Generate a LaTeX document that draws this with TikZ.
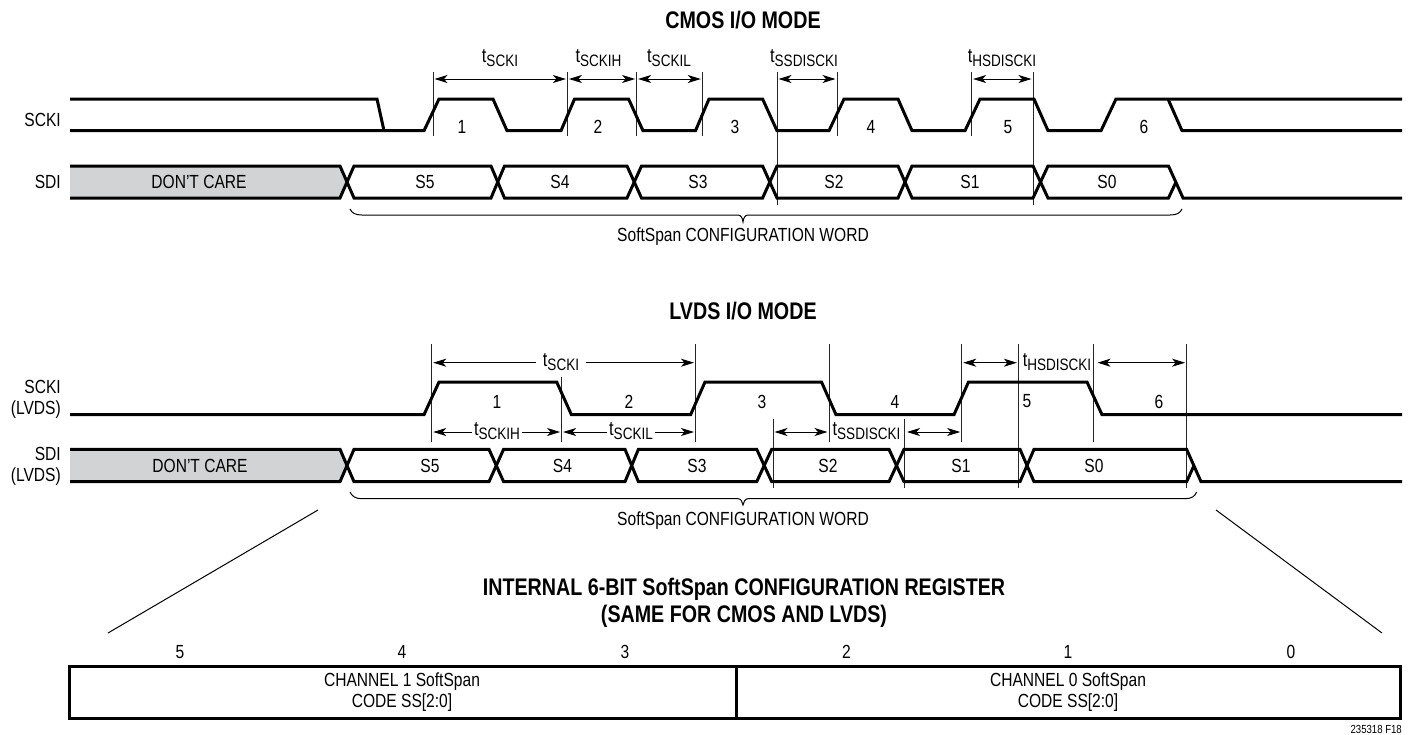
\documentclass[tikz,border=0pt]{standalone}
\usepackage{fontspec}
\setmainfont[FakeStretch=0.82]{Liberation Sans}
\usetikzlibrary{arrows.meta}
\definecolor{dcgrey}{HTML}{D1D3D4}
\tikzset{
  x=1pt,y=-1pt,
  wave/.style={line width=3pt,line join=miter,line cap=butt},
  tick/.style={line width=0.8pt,black!85},
  dim/.style={line width=1pt,shorten >=1.5pt,shorten <=1.5pt,{Stealth[length=13pt,width=8pt,inset=3.5pt]}-{Stealth[length=13pt,width=8pt,inset=3.5pt]}},
  halfdim/.style={line width=1pt,shorten >=1.5pt,-{Stealth[length=13pt,width=8pt,inset=3.5pt]}},
  brc/.style={line width=1pt},
  lab/.style={font=\fontsize{19}{21}\selectfont,inner sep=0pt,align=center},
  rlab/.style={font=\fontsize{19}{21}\selectfont,inner sep=0pt,align=right,anchor=east},
  ttl/.style={font=\fontsize{24}{27}\selectfont\bfseries,inner sep=0pt,align=center},
  symb/.style={inner sep=0pt},
  regbox/.style={draw,line width=3pt,outer sep=0pt,inner sep=0pt,anchor=north west,minimum height=52pt},
}
\newcommand{\tsub}[1]{{\fontsize{20}{21}\selectfont t}\raisebox{-3.5pt}{\fontsize{16.5}{18}\selectfont #1}}
\begin{document}
\begin{tikzpicture}
\useasboundingbox (0,0) rectangle (1411,734);
\fill[white] (0,0) rectangle (1411,734);
% ---------- CMOS
\node[ttl] (t1) at (743,20) {CMOS I/O MODE};
\node[rlab] (l1) at (61,120) {SCKI};
\node[rlab] (l2) at (61,182) {SDI};
\fill[dcgrey] (70,166) -- (340,166) -- (347.5,182) -- (340,198) -- (70,198) -- cycle;
% ticks
\foreach \x in {433,567.4,636.6,702.3,837,971.6} \draw[tick] (\x,72) -- (\x,136);
\foreach \x in {777,1033} \draw[tick] (\x,72) -- (\x,205);
% clock
\draw[wave] (70,99) -- (377,99) -- (384,130.7);
\draw[wave] (70,130.7) -- (424,130.7) -- (439,99) -- (493,99) -- (507,130.7) -- (561,130.7) -- (574.5,99) -- (628.6,99) -- (643,130.7) -- (695.5,130.7) -- (709,99) -- (762.6,99) -- (777,130.7) -- (829,130.7) -- (844,99) -- (898,99) -- (912,130.7) -- (965,130.7) -- (980,99) -- (1034,99) -- (1048,130.7) -- (1101,130.7) -- (1116,99) -- (1402,99);
\draw[wave] (1168,99) -- (1182,130.7) -- (1402,130.7);
% data
\draw[wave] (70,166) -- (340,166) -- (354,198) -- (491,198) -- (504.5,166) -- (627,166) -- (641.5,198) -- (762.6,198) -- (777,166) -- (898,166) -- (912,198) -- (1033,198) -- (1048,166) -- (1168.5,166) -- (1183,198) -- (1402,198);
\draw[wave] (70,198) -- (340,198) -- (354,166) -- (491,166) -- (504.5,198) -- (627,198) -- (641.5,166) -- (762.6,166) -- (777,198) -- (898,198) -- (912,166) -- (1033,166) -- (1048,198) -- (1168.5,198) -- (1176,182);
\node[lab] (d1) at (199,182) {DON'T CARE};
\node[lab] (s51) at (425,182) {S5};
\node[lab] (s41) at (560,182) {S4};
\node[lab] (s31) at (698,182) {S3};
\node[lab] (s21) at (834,182) {S2};
\node[lab] (s11) at (970,182) {S1};
\node[lab] (s01) at (1107,182) {S0};
\foreach \n/\x in {1/462,2/598,3/735,4/871,5/1008,6/1144} \node[lab] (n\n) at (\x,127) {\n};
% dims
\coordinate (a1) at (433,79); \coordinate (a2) at (567.4,79); \coordinate (a3) at (636.6,79); \coordinate (a4) at (702.3,79);
\coordinate (a5) at (777,79); \coordinate (a6) at (837,79); \coordinate (a7) at (971.6,79); \coordinate (a8) at (1033,79);
\draw[dim] (a1) -- (a2);
\draw[dim] (a2) -- (a3);
\draw[dim] (a3) -- (a4);
\draw[dim] (a5) -- (a6);
\draw[dim] (a7) -- (a8);
\node[symb] (ts1) at (500,58) {\tsub{SCKI}};
\node[symb] (ts2) at (598.5,58) {\tsub{SCKIH}};
\node[symb] (ts3) at (669,58) {\tsub{SCKIL}};
\node[symb] (ts4) at (804,58) {\tsub{SSDISCKI}};
\node[symb] (ts5) at (1002,58) {\tsub{HSDISCKI}};
% brace
\draw[brc] (350,209) .. controls (352,213) and (355,215) .. (362,215) -- (738,215) .. controls (741,215) and (742.5,218) .. (743,222) .. controls (743.5,218) and (745,215) .. (748,215) -- (1170,215) .. controls (1177,215) and (1180,213) .. (1182,209);
\node[lab] (w1) at (743,237) {SoftSpan CONFIGURATION WORD};
% ---------- LVDS
\node[ttl] (t2) at (743,311) {LVDS I/O MODE};
\node[rlab] (l3) at (61,399.5) {SCKI\\(LVDS)};
\node[rlab] (l4) at (61,466.5) {SDI\\(LVDS)};
\fill[dcgrey] (70,449.3) -- (340,449.3) -- (347.5,465.5) -- (340,481.7) -- (70,481.7) -- cycle;
\foreach \x in {431.7,695.5,829,961.7,1093.6} \draw[tick] (\x,344) -- (\x,442);
\draw[tick] (561.6,377) -- (561.6,442);
\foreach \x in {1018.4,1186.6} \draw[tick] (\x,344) -- (\x,488);
\foreach \x in {773,904.5} \draw[tick] (\x,419) -- (\x,488);
\draw[wave] (70,414.7) -- (424,414.7) -- (439,382) -- (556.7,382) -- (571.4,414.7) -- (690.6,414.7) -- (705,382) -- (821.5,382) -- (836,414.7) -- (954,414.7) -- (968.5,382) -- (1087,382) -- (1102,414.7) -- (1402,414.7);
\draw[wave] (70,449.3) -- (340,449.3) -- (354,481.7) -- (489,481.7) -- (503.6,449.3) -- (625,449.3) -- (638.4,481.7) -- (756.7,481.7) -- (771.7,449.3) -- (889,449.3) -- (904,481.7) -- (1020,481.7) -- (1034,449.3) -- (1186.6,449.3) -- (1201,481.7) -- (1402,481.7);
\draw[wave] (70,481.7) -- (340,481.7) -- (354,449.3) -- (489,449.3) -- (503.6,481.7) -- (625,481.7) -- (638.4,449.3) -- (756.7,449.3) -- (771.7,481.7) -- (889,481.7) -- (904,449.3) -- (1020,449.3) -- (1034,481.7) -- (1186.6,481.7) -- (1194,465.5);
\node[lab] (d2) at (200,466) {DON'T CARE};
\node[lab] (s52) at (430,466) {S5};
\node[lab] (s42) at (562.5,466) {S4};
\node[lab] (s32) at (697,466) {S3};
\node[lab] (s22) at (828,466) {S2};
\node[lab] (s12) at (961,466) {S1};
\node[lab] (s02) at (1094,466) {S0};
\node[lab] (m1) at (497,401.5) {1};
\node[lab] (m2) at (629,401.5) {2};
\node[lab] (m3) at (762,401.5) {3};
\node[lab] (m4) at (895,401.5) {4};
\node[lab] (m5) at (1027,401.5) {5};
\node[lab] (m6) at (1159,401.5) {6};
% top dims
\coordinate (b1) at (431.7,362.7); \coordinate (b2) at (695.5,362.7);
\coordinate (b3) at (961.7,362.7); \coordinate (b4) at (1018.4,362.7);
\coordinate (b5) at (1096,362.7); \coordinate (b6) at (1186.6,362.7);
\node[symb] (u1) at (561,362) {\tsub{SCKI}};
\draw[halfdim] ([xshift=-7pt]u1.west |- b1) -- (b1);
\draw[halfdim] ([xshift=7pt]u1.east |- b2) -- (b2);
\draw[dim] (b3) -- (b4);
\node[symb] (u2) at (1057,362) {\tsub{HSDISCKI}};
\draw[dim] (b5) -- (b6);
% lower dims
\coordinate (c1) at (431.7,432); \coordinate (c2) at (561.6,432); \coordinate (c3) at (695.5,432);
\coordinate (c4) at (773,432); \coordinate (c5) at (829,432); \coordinate (c6) at (905.5,432); \coordinate (c7) at (961.7,432);
\node[symb] (v1) at (497,431) {\tsub{SCKIH}};
\node[symb] (v2) at (631,431) {\tsub{SCKIL}};
\node[symb] (v3) at (866.5,431) {\tsub{SSDISCKI}};
\draw[halfdim] ([xshift=-2pt]v1.west |- c1) -- (c1);
\draw[halfdim] ([xshift=2pt]v1.east |- c2) -- (c2);
\draw[halfdim] ([xshift=-2pt]v2.west |- c2) -- (c2);
\draw[halfdim] ([xshift=2pt]v2.east |- c3) -- (c3);
\draw[dim] (c4) -- (c5);
\draw[dim] (c6) -- (c7);
\draw[brc] (350,492) .. controls (352,496) and (355,498.7) .. (362,498.7) -- (738,498.7) .. controls (741,498.7) and (742.5,502) .. (743,505) .. controls (743.5,502) and (745,498.7) .. (748,498.7) -- (1185,498.7) .. controls (1192,498.7) and (1195,496) .. (1196.6,492);
\node[lab] (w2) at (743,521) {SoftSpan CONFIGURATION WORD};
% ---------- register
\node[ttl] (t3) at (744,602.5) {INTERNAL 6-BIT SoftSpan CONFIGURATION REGISTER\\(SAME FOR CMOS AND LVDS)};
\foreach \n/\x in {5/180,4/402,3/625,2/846.5,1/1068,0/1291} \node[lab] (r\n) at (\x,652) {\n};
\node[regbox,minimum width=667pt] (ra) at (69,666) {};
\node[regbox,minimum width=664pt] (rb) at (736,666) {};
\node[lab] (ca) at (402,692.5) {CHANNEL 1 SoftSpan\\CODE SS[2:0]};
\node[lab] (cb) at (1068,692.5) {CHANNEL 0 SoftSpan\\CODE SS[2:0]};
\coordinate (e1) at (318,510); \coordinate (e2) at (108,633);
\coordinate (e3) at (1216,510); \coordinate (e4) at (1382,633);
\draw[line width=1pt] (e1) -- (e2);
\draw[line width=1pt] (e3) -- (e4);
\node[font=\fontsize{11.7}{13}\selectfont,inner sep=0pt,anchor=east] (fg) at (1402,729.5) {235318 F18};
\end{tikzpicture}
\end{document}
